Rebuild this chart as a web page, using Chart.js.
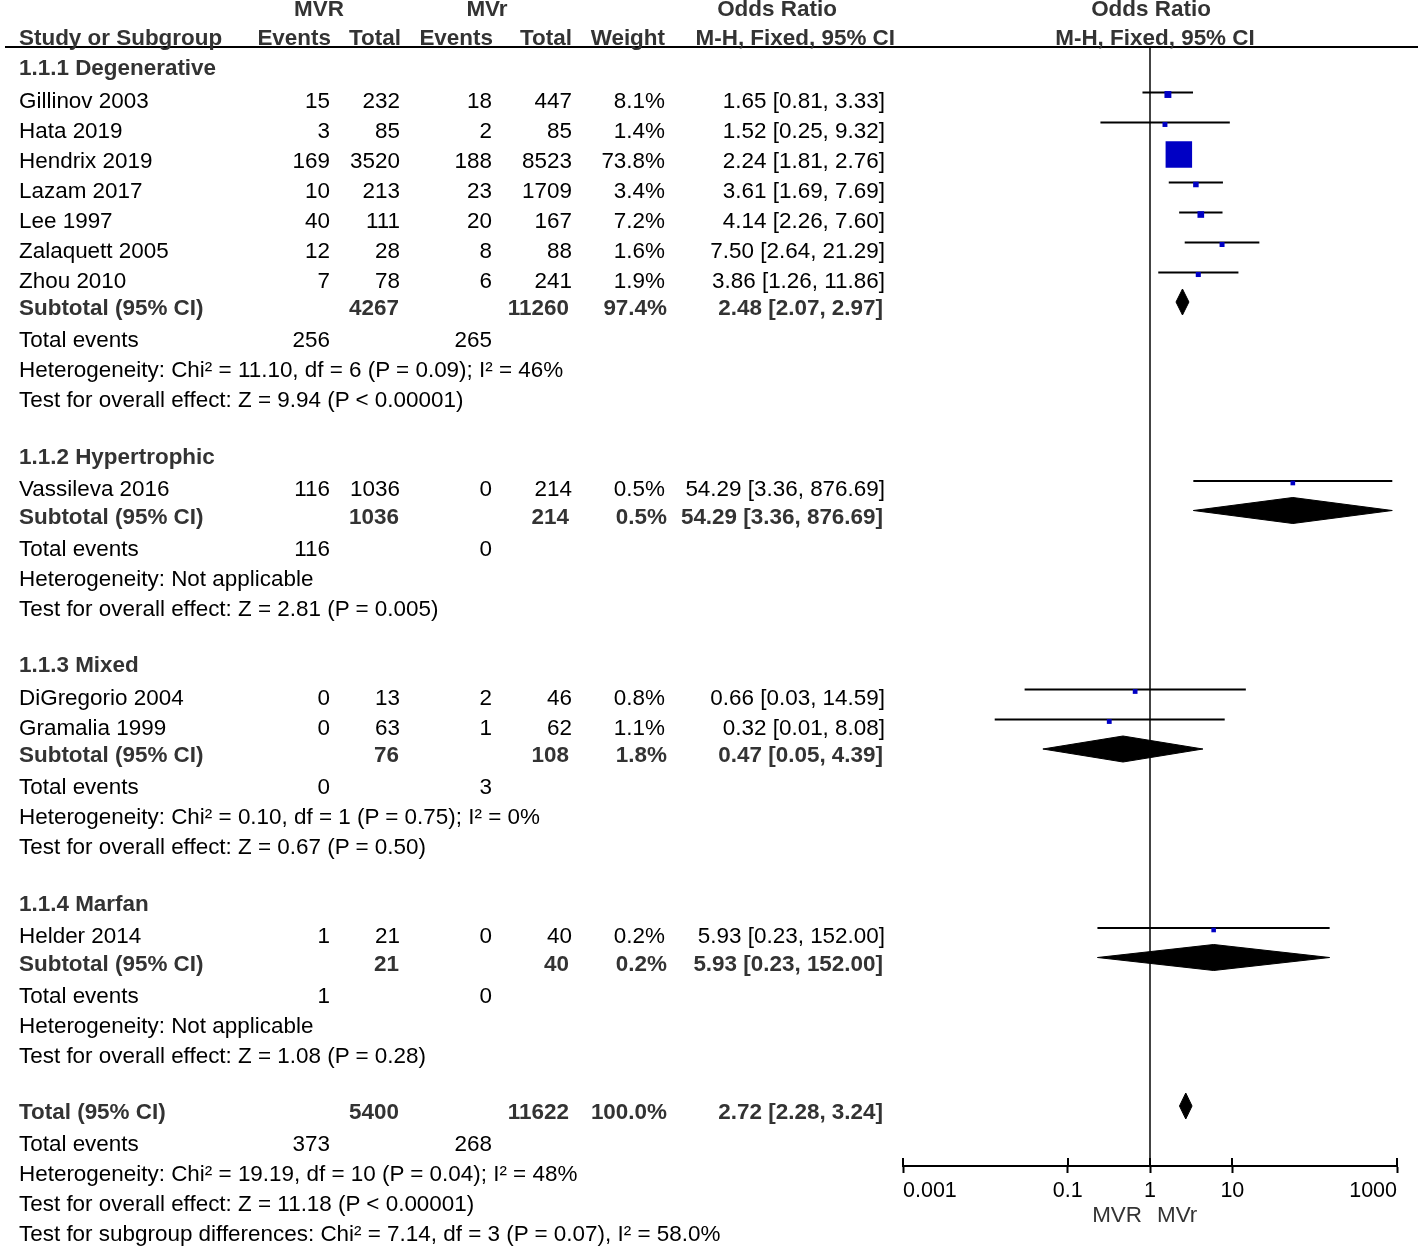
<!DOCTYPE html>
<html><head><meta charset="utf-8">
<script src="https://cdn.jsdelivr.net/npm/chart.js@4.4.1/dist/chart.umd.min.js"></script>
<style>
html,body{margin:0;padding:0;background:#fff;}
#wrap{position:relative;width:1418px;height:1246px;overflow:hidden;font-family:"Liberation Sans",Arial,Helvetica,sans-serif;}
#c{position:absolute;left:0;top:0;}
.t{position:absolute;white-space:nowrap;font-size:22.45px;line-height:22px;color:#000;transform:translateY(-50%);}
.b{font-weight:bold;color:#333;}
.r{transform:translate(-100%,-50%);}
.c{transform:translate(-50%,-50%);}
.f{font-size:22.45px;color:#333;}
</style></head><body>
<div id="wrap"><canvas id="c" width="1418" height="1246"></canvas></div>
<script>
// ---------------- data ----------------
const groupNames = ['1.1.1 Degenerative', '1.1.2 Hypertrophic', '1.1.3 Mixed', '1.1.4 Marfan'];
const studyNames = ['Gillinov 2003', 'Hata 2019', 'Hendrix 2019', 'Lazam 2017', 'Lee 1997', 'Zalaquett 2005', 'Zhou 2010',
                    'Vassileva 2016', 'DiGregorio 2004', 'Gramalia 1999', 'Helder 2014'];
const studyGroup = [0, 0, 0, 0, 0, 0, 0, 1, 2, 2, 3];
const mvrEvents  = [15, 3, 169, 10, 40, 12, 7, 116, 0, 0, 1];
const mvrTotal   = [232, 85, 3520, 213, 111, 28, 78, 1036, 13, 63, 21];
const mvrEventsR = [18, 2, 188, 23, 20, 8, 6, 0, 2, 1, 0];
const mvrTotalR  = [447, 85, 8523, 1709, 167, 88, 241, 214, 46, 62, 40];
const weights    = [8.1, 1.4, 73.8, 3.4, 7.2, 1.6, 1.9, 0.5, 0.8, 1.1, 0.2];
const orEst      = [1.65, 1.52, 2.24, 3.61, 4.14, 7.50, 3.86, 54.29, 0.66, 0.32, 5.93];
const orLow      = [0.81, 0.25, 1.81, 1.69, 2.26, 2.64, 1.26, 3.36, 0.03, 0.013, 0.23];
const orHigh     = [3.33, 9.32, 2.76, 7.69, 7.60, 21.29, 11.86, 876.69, 14.59, 8.08, 152.00];

const subTotalMVR  = [4267, 1036, 76, 21];
const subTotalMVr  = [11260, 214, 108, 40];
const subWeight    = [97.4, 0.5, 1.8, 0.2];
const subEst       = [2.48, 54.29, 0.47, 5.93];
const subLow       = [2.07, 3.36, 0.05, 0.23];
const subHigh      = [2.97, 876.69, 4.39, 152.00];
const subEventsMVR = [256, 116, 0, 1];
const subEventsMVr = [265, 0, 3, 0];
const subHet  = ['Heterogeneity: Chi² = 11.10, df = 6 (P = 0.09); I² = 46%',
                 'Heterogeneity: Not applicable',
                 'Heterogeneity: Chi² = 0.10, df = 1 (P = 0.75); I² = 0%',
                 'Heterogeneity: Not applicable'];
const subTest = ['Test for overall effect: Z = 9.94 (P < 0.00001)',
                 'Test for overall effect: Z = 2.81 (P = 0.005)',
                 'Test for overall effect: Z = 0.67 (P = 0.50)',
                 'Test for overall effect: Z = 1.08 (P = 0.28)'];

const overallTotals = [5400, 11622];          // MVR total, MVr total
const overallEvents = [373, 268];             // MVR events, MVr events
const overallOR     = [2.72, 2.28, 3.24];     // estimate, low, high
const overallWeight = [100.0];
const overallNotes  = ['Heterogeneity: Chi² = 19.19, df = 10 (P = 0.04); I² = 48%',
                       'Test for overall effect: Z = 11.18 (P < 0.00001)',
                       'Test for subgroup differences: Chi² = 7.14, df = 3 (P = 0.07), I² = 58.0%'];

const axisTicks = [0.001, 0.1, 1, 10, 1000];
const favourLabels = ['MVR', 'MVr'];

// ---------------- layout ----------------
const FONT = '"Liberation Sans", Arial, Helvetica, sans-serif';
const HEADER_LINE_Y = 47, AXIS_Y = 1166;

const rows = [];
groupNames.forEach((g, gi) => {
  rows.push({kind: 'group', gi});
  studyNames.forEach((s, i) => { if (studyGroup[i] === gi) rows.push({kind: 'study', i}); });
  rows.push({kind: 'subtotal', gi});
  rows.push({kind: 'events', a: subEventsMVR[gi], b: subEventsMVr[gi]});
  rows.push({kind: 'note', text: subHet[gi]});
  rows.push({kind: 'note', text: subTest[gi]});
});
rows.push({kind: 'total'});
rows.push({kind: 'events', a: overallEvents[0], b: overallEvents[1]});
overallNotes.forEach(t => rows.push({kind: 'note', text: t}));

function gapBefore(prev, cur) {
  if (!prev) return 68;
  if (cur.kind === 'group' || cur.kind === 'total') return 56.5;
  if (cur.kind === 'study') return prev.kind === 'group' ? 32.5 : 30;
  if (cur.kind === 'subtotal') return 27.5;
  if (cur.kind === 'events') return 32;
  return 30;
}
let yy = 0;
rows.forEach((r, k) => { yy += gapBefore(rows[k - 1], r); r.y = yy; });

const studyY = [], subY = [], totalRow = rows.find(r => r.kind === 'total');
rows.forEach(r => { if (r.kind === 'study') studyY[r.i] = r.y; if (r.kind === 'subtotal') subY[r.gi] = r.y; });

const maxW = Math.max(...weights);
const sideOf = w => 4.5 + 22 * w / maxW;

function diamond(est, lo, hi, yc) {
  const c = yc - 6;
  return [{x: lo, y: c}, {x: est, y: c - 13}, {x: hi, y: c}, {x: est, y: c + 13}, {x: lo, y: c}];
}

const datasets = [];
studyNames.forEach((n, i) => {
  datasets.push({
    showLine: true, order: 3,
    data: [{x: orLow[i], y: studyY[i] - 8}, {x: orHigh[i], y: studyY[i] - 8}],
    borderColor: '#000', borderWidth: 2, pointRadius: 0, fill: false
  });
});
datasets.push({
  order: 1,
  data: studyNames.map((n, i) => ({x: orEst[i], y: studyY[i] - 6})),
  pointStyle: 'rect',
  pointRadius: ctx => sideOf(weights[ctx.dataIndex]) / Math.SQRT2,
  pointHoverRadius: ctx => sideOf(weights[ctx.dataIndex]) / Math.SQRT2,
  backgroundColor: '#0000C4', borderWidth: 0, showLine: false
});
groupNames.forEach((g, gi) => {
  datasets.push({
    showLine: true, order: 2, data: diamond(subEst[gi], subLow[gi], subHigh[gi], subY[gi]),
    borderColor: '#000', backgroundColor: '#000', borderWidth: 1, pointRadius: 0, fill: 'shape', tension: 0
  });
});
datasets.push({
  showLine: true, order: 2, data: diamond(overallOR[0], overallOR[1], overallOR[2], totalRow.y),
  borderColor: '#000', backgroundColor: '#000', borderWidth: 1, pointRadius: 0, fill: 'shape', tension: 0
});

const forestPlugin = {
  id: 'forest',
  beforeDatasetsDraw(chart) {
    const {ctx, chartArea, scales: {x}} = chart;
    const px = Math.round(x.getPixelForValue(1));
    ctx.save();
    ctx.strokeStyle = '#444'; ctx.lineWidth = 2;
    ctx.beginPath(); ctx.moveTo(px, chartArea.top); ctx.lineTo(px, chartArea.bottom); ctx.stroke();
    ctx.restore();
  },
  afterDraw(chart) {
    const {ctx, chartArea, scales: {x}} = chart;
    ctx.save();
    ctx.strokeStyle = '#000'; ctx.lineWidth = 2;
    ctx.beginPath();
    ctx.moveTo(5, chartArea.top); ctx.lineTo(chart.width, chartArea.top);
    x.ticks.forEach(t => {
      const p = Math.round(x.getPixelForValue(t.value));
      ctx.moveTo(p, chartArea.bottom - 8); ctx.lineTo(p, chartArea.bottom);
    });
    ctx.stroke();
    ctx.restore();
  }
};

const chart = new Chart(document.getElementById('c'), {
  type: 'scatter',
  data: {datasets},
  options: {
    responsive: false, animation: false, devicePixelRatio: 1,
    layout: {padding: {left: 903, right: 21, top: HEADER_LINE_Y, bottom: 0}},
    scales: {
      x: {
        type: 'logarithmic', min: axisTicks[0], max: axisTicks[axisTicks.length - 1], position: 'bottom',
        afterBuildTicks: s => { s.ticks = axisTicks.map(v => ({value: v})); },
        afterFit: s => { s.height = 1246 - AXIS_Y; },
        ticks: {callback: v => String(v), font: {size: 21.5, family: FONT}, color: '#000',
                align: 'inner', padding: 5, maxRotation: 0, autoSkip: false},
        grid: {display: true, drawOnChartArea: false, drawTicks: true, tickLength: 7, tickWidth: 2, tickColor: '#000'},
        border: {display: true, color: '#000', width: 2}
      },
      y: {type: 'linear', reverse: true, min: HEADER_LINE_Y, max: AXIS_Y, display: false}
    },
    plugins: {legend: {display: false}, tooltip: {enabled: false}}
  },
  plugins: [forestPlugin]
});

// ---------------- text ----------------
const wrap = document.getElementById('wrap');
function put(text, x, y, align, cls) {
  const d = document.createElement('div');
  d.className = 't ' + (align === 'r' ? 'r ' : align === 'c' ? 'c ' : '') + (cls || '');
  d.textContent = text;
  d.style.left = x + 'px';
  d.style.top = y + 'px';
  wrap.appendChild(d);
}
const ys = chart.scales.y, xs = chart.scales.x;
const yPix = v => ys.getPixelForValue(v);
const orText = (e, l, h) => e.toFixed(2) + ' [' + l.toFixed(2) + ', ' + h.toFixed(2) + ']';
const wText = w => w.toFixed(1) + '%';

// headers
const x1 = xs.getPixelForValue(1);
put('MVR', 319, 9, 'c', 'b');
put('MVr', 487, 9, 'c', 'b');
put('Odds Ratio', 777, 9, 'c', 'b');
put('Odds Ratio', x1 + 1, 9, 'c', 'b');
put('Study or Subgroup', 19, 38, 'l', 'b');
put('Events', 331, 38, 'r', 'b');
put('Total', 401, 38, 'r', 'b');
put('Events', 493, 38, 'r', 'b');
put('Total', 572, 38, 'r', 'b');
put('Weight', 665, 38, 'r', 'b');
put('M-H, Fixed, 95% CI', 895, 38, 'r', 'b');
put('M-H, Fixed, 95% CI', x1 + 5, 38, 'c', 'b');

rows.forEach(r => {
  const y = yPix(r.y);
  if (r.kind === 'group') put(groupNames[r.gi], 19, y, 'l', 'b');
  else if (r.kind === 'study') {
    const i = r.i;
    put(studyNames[i], 19, y, 'l');
    put(String(mvrEvents[i]), 330, y, 'r');
    put(String(mvrTotal[i]), 400, y, 'r');
    put(String(mvrEventsR[i]), 492, y, 'r');
    put(String(mvrTotalR[i]), 572, y, 'r');
    put(wText(weights[i]), 665, y, 'r');
    put(orText(orEst[i], orLow[i], orHigh[i]), 885, y, 'r');
  } else if (r.kind === 'subtotal') {
    const g = r.gi;
    put('Subtotal (95% CI)', 19, y, 'l', 'b');
    put(String(subTotalMVR[g]), 399, y, 'r', 'b');
    put(String(subTotalMVr[g]), 569, y, 'r', 'b');
    put(wText(subWeight[g]), 667, y, 'r', 'b');
    put(orText(subEst[g], subLow[g], subHigh[g]), 883, y, 'r', 'b');
  } else if (r.kind === 'total') {
    put('Total (95% CI)', 19, y, 'l', 'b');
    put(String(overallTotals[0]), 399, y, 'r', 'b');
    put(String(overallTotals[1]), 569, y, 'r', 'b');
    put(wText(overallWeight[0]), 667, y, 'r', 'b');
    put(orText(overallOR[0], overallOR[1], overallOR[2]), 883, y, 'r', 'b');
  } else if (r.kind === 'events') {
    put('Total events', 19, y, 'l');
    put(String(r.a), 330, y, 'r');
    put(String(r.b), 492, y, 'r');
  } else {
    put(r.text, 19, y, 'l');
  }
});

put(favourLabels[0], x1 - 8, 1215, 'r', 'f');
put(favourLabels[1], x1 + 7, 1215, 'l', 'f');
</script>
</body></html>
